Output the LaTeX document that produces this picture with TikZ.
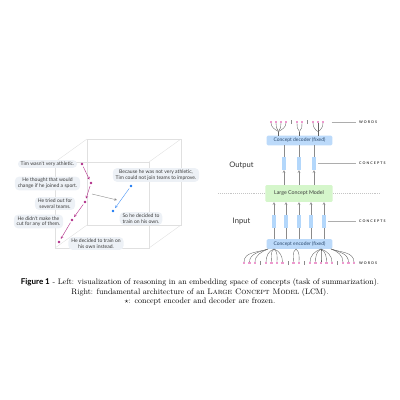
\documentclass[tikz,border=0pt]{standalone}
\usepackage{fontspec}
\usepackage{amssymb}
\usetikzlibrary{shapes, calc, arrows}
\newfontfamily\metasans{Lato}
\newfontfamily\tagfont[LetterSpace=30]{Lato}

\definecolor{bubblefill}{HTML}{EDF1F6}
\definecolor{textgray}{HTML}{3A3A3A}
\definecolor{magentaC}{HTML}{B02A86}
\definecolor{blueC}{HTML}{1877F2}
\definecolor{cubegray}{HTML}{E0E0E0}
\definecolor{coderfill}{HTML}{BCDAFA}
\definecolor{codertext}{HTML}{2B4A6E}
\definecolor{lcmfill}{HTML}{D5F6CB}
\definecolor{barfill}{HTML}{B3D7FB}
\definecolor{wordpink}{HTML}{EE9ACF}
\definecolor{linegray}{HTML}{8A8A8A}

\tikzset{
	bubble/.style={fill=bubblefill, rounded corners=5pt, align=center, text=textgray,
		font=\metasans\fontsize{6.3}{7.3}\selectfont, inner xsep=3.5pt, inner ysep=2pt},
	magdot/.style={circle, fill=magentaC, inner sep=0pt, minimum size=3.4pt},
	bluedot/.style={circle, fill=blueC, inner sep=0pt, minimum size=3.4pt},
	magarrow/.style={draw=magentaC, line width=0.5pt, -stealth, shorten >=2.6pt, shorten <=2pt},
	bluearrow/.style={draw=blueC!80, line width=0.5pt, -stealth, shorten >=2.6pt, shorten <=2pt},
	cubeline/.style={draw=cubegray, line width=0.5pt},
	coder/.style={fill=coderfill, rounded corners=1.5pt, text=codertext, minimum width=82pt,
		minimum height=12pt, inner sep=0pt, font=\metasans\fontsize{6.2}{7}\selectfont},
	lcmbox/.style={fill=lcmfill, rounded corners=1.5pt, text=textgray, minimum width=84pt,
		minimum height=21pt, inner sep=0pt, font=\metasans\fontsize{6.6}{7.5}\selectfont},
	conceptbar/.style={fill=barfill, inner sep=0pt, minimum width=3.8pt, minimum height=16pt},
	flow/.style={draw=linegray, line width=0.6pt, -stealth},
	flowplain/.style={draw=linegray, line width=0.6pt},
	wordmark/.style={fill=wordpink, inner sep=0pt, minimum width=3.2pt, minimum height=1.6pt},
	sepmark/.style={draw=linegray, line width=0.4pt},
	wordline/.style={draw=textgray!80, line width=0.45pt},
	tagline/.style={draw=linegray!70, line width=0.4pt},
	tag/.style={anchor=west, inner sep=0pt, text=textgray, font=\tagfont\bfseries\fontsize{4.5}{5}\selectfont},
	sidelabel/.style={text=textgray!90!black, font=\metasans\fontsize{9.5}{11}\selectfont}
}

\begin{document}
\begin{tikzpicture}[x=1.25pt, y=-1.25pt]
	\useasboundingbox (0,0) rectangle (400,400);

	% cube
	\draw[cubeline] (55,162) rectangle (149,248);
	\draw[cubeline] (87,139) rectangle (181,225);
	\draw[cubeline] (55,162) -- (87,139);
	\draw[cubeline] (149,162) -- (181,139);
	\draw[cubeline] (149,248) -- (181,225);
	\draw[cubeline] (55,248) -- (87,225);

	% sentences
	\node[bubble] (s1) at (47.5,164)   {Tim wasn't very athletic.};
	\node[bubble] (s2) at (47.5,183.5) {He thought that would\\change if he joined a sport.};
	\node[bubble] (s3) at (55,203.5)   {He tried out for\\several teams.};
	\node[bubble] (s4) at (38.5,221.5) {He didn't make the\\cut for any of them.};
	\node[bubble] (s5) at (96,243.5)   {He decided to train on\\his own instead.};
	\node[bubble] (s6) at (156,175)    {Because he was not very athletic,\\Tim could not join teams to improve.};
	\node[bubble] (s7) at (141,218.5)  {So he decided to\\train on his own.};

	% embeddings
	\node[magdot] (d1) at (82,164) {};
	\node[magdot] (d2) at (91,183) {};
	\node[magdot] (d3) at (85,202) {};
	\node[magdot] (d4) at (72,220) {};
	\node[magdot] (d5) at (59,242) {};
	\node[bluedot] (b1) at (131,186) {};
	\node[bluedot] (b2) at (113,211) {};

	\draw[magarrow] (d1) -- (d2);
	\draw[magarrow] (d2) -- (d3);
	\draw[magarrow] (d3) -- (d4);
	\draw[magarrow] (d4) -- (d5);
	\draw[bluearrow] (b1) -- (b2);

	\coordinate (g1) at (92,194);
	\coordinate (g2) at (117,200);
	\draw[draw=linegray, line width=0.5pt, -stealth] (g1) -- (g2);

	% architecture
	\coordinate (dl1) at (218,193.5);
	\coordinate (dl2) at (380,193.5);
	\draw[draw=linegray!50, line width=0.4pt, dotted] (dl1) -- (dl2);

	\node[coder] (dec) at (299.5,140.5) {Concept decoder (fixed)};
	\node[lcmbox] (lcm) at (299,193.5) {Large Concept Model};
	\node[coder] (enc) at (299.5,244) {Concept encoder (fixed)};

	\node[sidelabel] (outlbl) at (241.5,165) {Output};
	\node[sidelabel] (inlbl) at (241.5,221) {Input};

	\foreach \x [count=\i] in {284,299,314}
		\node[conceptbar] (ob\i) at (\x,163.5) {};
	\foreach \x [count=\i] in {274,286,299,311,324}
		\node[conceptbar] (ib\i) at (\x,221.5) {};

	\foreach \i in {1,2,3} {
		\draw[flow] (lcm.north -| ob\i) -- (ob\i.south);
		\draw[flowplain] (ob\i.north) -- (dec.south -| ob\i);
	}
	\foreach \i in {1,...,5} {
		\draw[flowplain] (enc.north -| ib\i) -- (ib\i.south);
		\draw[flow] (ib\i.north) -- (lcm.south -| ib\i);
	}

	% words, top
	\foreach \x [count=\i] in {271,276,281,286,297,302,313,318,323}
		\node[wordmark] (tw\i) at (\x,122) {};
	\foreach \x in {291.5,307.5}
		\draw[sepmark] (\x,120.2) -- (\x,123.8);
	\foreach \dx [count=\i] in {-21,0,18.5}
		\coordinate (tt\i) at ($(dec.north)+(\dx,-4)$);
	\foreach \w/\t/\a in {1/1/150,2/1/130,3/1/50,4/1/30,5/2/140,6/2/40,7/3/150,8/3/90,9/3/30}
		\draw[wordline] (tw\w.south) to[out=-90, in=\a] (tt\t);
	\foreach \i in {1,2,3}
		\draw[wordline] (tt\i) -- (dec.north -| tt\i);

	% words, bottom
	\foreach \x [count=\i] in {244,249.5,255,266,271.5,277,282.5,293.5,299,310,315.5,321,326.5,332,343,348.5,354}
		\node[wordmark] (bw\i) at (\x,263) {};
	\foreach \x in {260.5,288,304.5,337.5}
		\draw[sepmark] (\x,261.2) -- (\x,264.8);
	\foreach \dx [count=\i] in {-31.5,-25.5,-3.5,21.5,31.5}
		\coordinate (bt\i) at ($(enc.south)+(\dx,0)$);
	\foreach \w/\t/\a in {1/1/200,2/1/200,3/1/205,4/2/200,5/2/220,6/2/-40,7/2/-20,8/3/220,9/3/-40,
		10/4/200,11/4/210,12/4/-90,13/4/-30,14/4/-20,15/5/-20,16/5/-20,17/5/-20}
		\draw[wordline] (bw\w.north) to[out=90, in=\a] (bt\t);

	% side tags
	\node[tag] (wdt) at (359,122) {WORDS};
	\node[tag] (cpo) at (359,163.5) {CONCEPTS};
	\node[tag] (cpi) at (359,221.5) {CONCEPTS};
	\node[tag] (wdb) at (359,263) {WORDS};
	\draw[tagline] ([xshift=9pt]tw9.east) -- ([xshift=-4pt]wdt.west);
	\draw[tagline] ([xshift=3pt]ob3.east) -- ([xshift=-4pt]cpo.west);
	\draw[tagline] ([xshift=3pt]ib5.east) -- ([xshift=-4pt]cpi.west);

	% caption
	\node[align=center, font=\fontsize{10}{12}\selectfont] (cap) at (200,292)
		{{\metasans\bfseries Figure 1} - Left: visualization of reasoning in an embedding space of concepts (task of summarization).\\
		Right: fundamental architecture of an \textsc{Large Concept Model} (LCM).\\
		$\star$: concept encoder and decoder are frozen.};
\end{tikzpicture}
\end{document}
